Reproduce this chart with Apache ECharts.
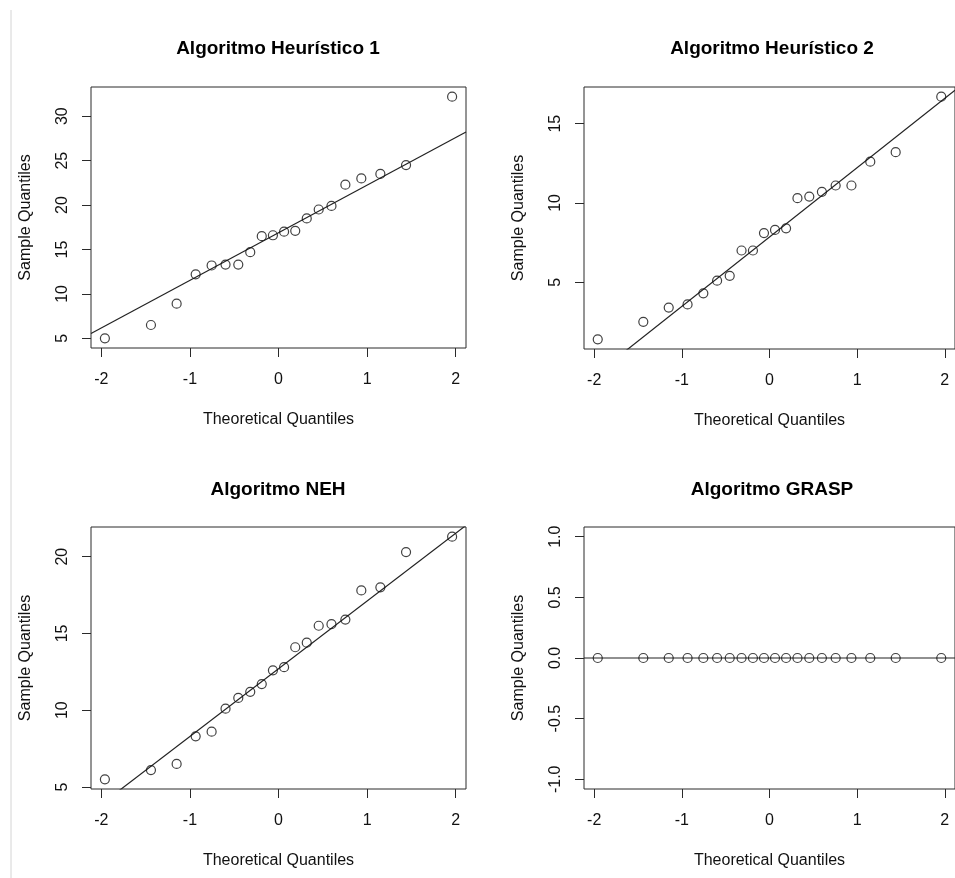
<!DOCTYPE html>
<html>
<head>
<meta charset="utf-8">
<script src="https://cdn.jsdelivr.net/npm/echarts@6/dist/echarts.min.js"></script>
<style>html,body{margin:0;padding:0;background:#fff}#c{width:955px;height:878px}</style>
</head>
<body>
<div id="c"></div>
<script>
// Theoretical normal quantiles for n = 20 (R ppoints)
const theoretical = [-1.960, -1.440, -1.150, -0.935, -0.755, -0.598, -0.454, -0.319, -0.189, -0.063,
                     0.063, 0.189, 0.319, 0.454, 0.598, 0.755, 0.935, 1.150, 1.440, 1.960];
// Sample quantiles (sorted)
const heur1 = [5.0, 6.5, 8.9, 12.2, 13.2, 13.3, 13.3, 14.7, 16.5, 16.6, 17.0, 17.1, 18.5, 19.5, 19.9, 22.3, 23.0, 23.5, 24.5, 32.2];
const heur2 = [1.4, 2.5, 3.4, 3.6, 4.3, 5.1, 5.4, 7.0, 7.0, 8.1, 8.3, 8.4, 10.3, 10.4, 10.7, 11.1, 11.1, 12.6, 13.2, 16.7];
const neh   = [5.5, 6.1, 6.5, 8.3, 8.6, 10.1, 10.8, 11.2, 11.7, 12.6, 12.8, 14.1, 14.4, 15.5, 15.6, 15.9, 17.8, 18.0, 20.3, 21.3];
const grasp = [0, 0, 0, 0, 0, 0, 0, 0, 0, 0, 0, 0, 0, 0, 0, 0, 0, 0, 0, 0];

const titles = ['Algoritmo Heurístico 1', 'Algoritmo Heurístico 2', 'Algoritmo NEH', 'Algoritmo GRASP'];
const xTicks = [-2, -1, 0, 1, 2];
const yTicks1 = [5, 10, 15, 20, 25, 30];
const yTicks2 = [5, 10, 15];
const yTicks3 = [5, 10, 15, 20];
const yTicks4 = [-1.0, -0.5, 0.0, 0.5, 1.0];
const xName = 'Theoretical Quantiles';
const yName = 'Sample Quantiles';

const FONT = 'Liberation Sans, Arial, Helvetica, sans-serif';

function padRange(arr) {
  let lo = Math.min(...arr), hi = Math.max(...arr);
  if (lo === hi) { lo -= 1; hi += 1; }
  const d = (hi - lo) * 0.04;
  return [lo - d, hi + d];
}
function q7(sorted, p) {
  const h = (sorted.length - 1) * p;
  const i = Math.floor(h);
  return sorted[i] + (h - i) * ((sorted[i + 1] ?? sorted[i]) - sorted[i]);
}
function qqline(y) {
  const s = [...y].sort((a, b) => a - b);
  const y1 = q7(s, 0.25), y2 = q7(s, 0.75);
  const x1 = -0.6744898, x2 = 0.6744898;
  const slope = (y2 - y1) / (x2 - x1);
  const inter = y1 - slope * x1;
  return [slope, inter];
}

const panels = [
  { y: heur1, ticks: yTicks1, dec: 0 },
  { y: heur2, ticks: yTicks2, dec: 0 },
  { y: neh,   ticks: yTicks3, dec: 0 },
  { y: grasp, ticks: yTicks4, dec: 1 }
];
const grids = [
  { left: 91,  top: 87,  width: 375, height: 261 },
  { left: 584, top: 87,  width: 376, height: 262 },
  { left: 91,  top: 527, width: 375, height: 262 },
  { left: 584, top: 527, width: 376, height: 262 }
];
const titlePos = [[278, 49], [772, 49], [278, 490], [772, 490]];

const xr = padRange(theoretical);
const option = {
  animation: false,
  backgroundColor: '#fff',
  textStyle: { fontFamily: FONT },
  grid: grids.map(g => Object.assign({ show: true, borderColor: '#2a2a2a', borderWidth: 1, containLabel: false }, g)),
  xAxis: panels.map((p, i) => ({
    type: 'value', gridIndex: i, min: xr[0], max: xr[1], position: 'bottom',
    axisLine: { show: false, onZero: false },
    axisTick: { show: true, length: 9, customValues: xTicks, lineStyle: { color: '#2a2a2a', width: 1 } },
    axisLabel: { customValues: xTicks, margin: 24, fontSize: 16, color: '#111', fontFamily: FONT,
                 formatter: v => String(Math.round(v)) },
    splitLine: { show: false },
    name: xName, nameLocation: 'middle', nameGap: 64,
    nameTextStyle: { fontSize: 16, color: '#111', fontFamily: FONT }
  })),
  yAxis: panels.map((p, i) => {
    const r = padRange(p.y);
    return {
      type: 'value', gridIndex: i, min: r[0], max: r[1], position: 'left',
      axisLine: { show: false, onZero: false },
      axisTick: { show: true, length: 9, customValues: p.ticks, lineStyle: { color: '#2a2a2a', width: 1 } },
      axisLabel: { customValues: p.ticks, rotate: 90, margin: 20, fontSize: 16, color: '#111', fontFamily: FONT,
                   formatter: v => Number(v).toFixed(p.dec) },
      splitLine: { show: false },
      name: yName, nameLocation: 'middle', nameGap: 57,
      nameTextStyle: { fontSize: 16, color: '#111', fontFamily: FONT }
    };
  }),
  series: [],
  graphic: [
    { type: 'line', shape: { x1: 11, y1: 10, x2: 11, y2: 878 }, style: { stroke: '#d4d4d4', lineWidth: 1 }, silent: true }
  ]
};

panels.forEach((p, i) => {
  const [b, a] = qqline(p.y);
  option.series.push({
    type: 'line', xAxisIndex: i, yAxisIndex: i, silent: true, showSymbol: false, clip: true,
    data: [[xr[0], a + b * xr[0]], [xr[1], a + b * xr[1]]],
    lineStyle: { color: '#222', width: 1.2 }, z: 2
  });
  option.series.push({
    type: 'scatter', xAxisIndex: i, yAxisIndex: i, silent: true,
    data: theoretical.map((t, k) => [t, p.y[k]]),
    symbol: 'circle', symbolSize: 9,
    itemStyle: { color: 'rgba(255,255,255,0)', borderColor: '#111', borderWidth: 1.2 }, z: 3
  });
  option.graphic.push({
    type: 'text', x: titlePos[i][0], y: titlePos[i][1], silent: true,
    style: { text: titles[i], textAlign: 'center', textVerticalAlign: 'middle',
             font: 'bold 19px ' + FONT, fill: '#000' }
  });
});

const chart = echarts.init(document.getElementById('c'), null, { renderer: 'canvas' });
chart.setOption(option);
</script>
</body>
</html>
